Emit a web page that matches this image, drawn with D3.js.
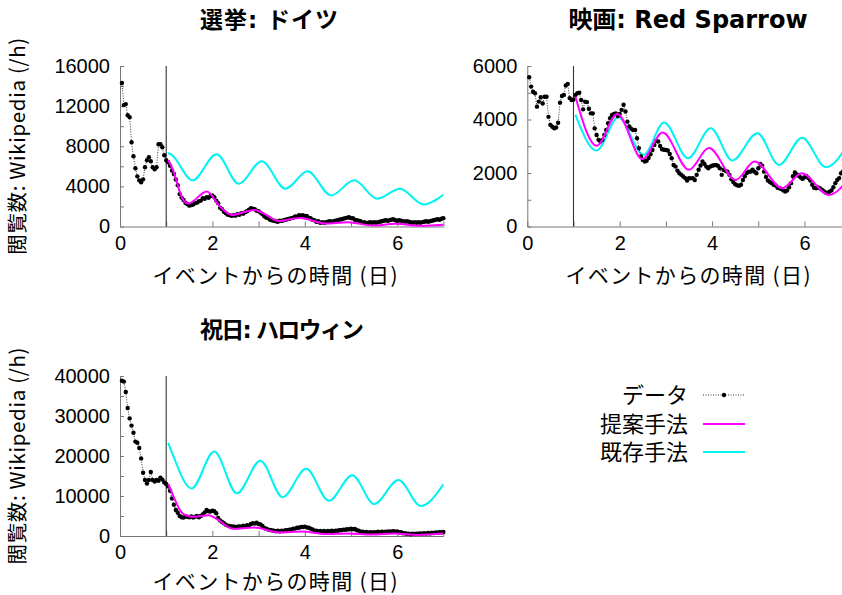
<!DOCTYPE html>
<html>
<head>
<meta charset="utf-8">
<script src="https://cdn.jsdelivr.net/npm/d3@7"></script>
<style>
  body { margin: 0; background: #fff; }
  text { font-family: "Liberation Sans", Arial, "Noto Sans CJK JP", sans-serif; fill: #000; }
  .jp { font-family: "Noto Sans CJK JP", "Liberation Sans", sans-serif; }
  .title { font-family: "DejaVu Sans", "Noto Sans CJK JP", sans-serif; font-weight: bold; }
</style>
</head>
<body>
<svg id="chart" width="842" height="595"></svg>
<script>
// Hourly Wikipedia page views, hour 1 .. 168 after the event
const hoursAfterEvent = d3.range(1, 169);

const electionViews = [
  14300,12100,12200,11100,10900,8400,7000,5800,5000,4600,4400,4700,5900,6600,6900,6500,5900,5700,5900,8200,8200,7900,7100,6600,
  6400,6050,5580,5230,4680,4120,3230,2880,2640,2370,2230,2080,2140,2190,2330,2380,2520,2580,2830,2760,2930,2870,3040,3100,
  2920,2580,2330,1880,1730,1470,1320,1180,1130,1060,1120,1080,1230,1170,1320,1280,1430,1520,1680,1830,1770,1720,1580,1530,
  1380,1230,1020,880,820,680,630,570,520,480,590,560,630,680,730,770,830,880,1010,970,1120,1080,1130,1020,
  1040,880,820,680,630,480,530,380,430,370,420,480,530,470,540,580,630,680,730,770,830,880,920,830,
  820,680,630,570,520,380,430,320,380,430,370,420,380,430,470,530,580,620,570,630,680,720,630,580,
  620,580,530,480,520,470,420,380,430,370,420,380,440,480,520,470,530,580,620,680,720,680,770,830
];

const movieViews = [
  5580,5230,5040,4980,4480,4670,4830,4600,4850,4850,4100,3800,3730,3670,3700,3880,4630,4880,4920,5270,5330,4800,4730,4750,
  4920,4980,5000,4730,4380,4670,4650,4400,4230,4230,3670,3420,3240,3180,3240,3420,3610,3860,4050,4170,4210,4230,4130,4210,
  4360,4550,4300,3920,3740,3650,3610,3610,3300,2930,2620,2490,2430,2460,2560,2700,2860,3050,3200,3180,3010,2890,2870,2860,
  2840,2710,2550,2300,2240,2090,1990,1930,1870,1810,1720,1810,1800,1810,1740,1930,2120,2280,2430,2340,2240,2180,2240,2270,
  2290,2300,2270,2180,1930,2120,2080,2050,1930,1770,1660,1580,1540,1520,1560,1740,1880,2000,2050,2050,2120,2050,1990,2180,
  2340,2270,2050,1850,1720,1660,1620,1560,1530,1450,1430,1400,1350,1310,1350,1470,1620,1880,2020,1950,1900,1830,1780,1840,
  1890,1810,1720,1560,1450,1430,1460,1430,1380,1320,1270,1250,1300,1350,1470,1620,1740,1810,1990,2050,2100,2150,2200,2250
];

const halloweenViews = [
  38800,38600,36000,32000,29400,27600,25800,23600,23300,22000,19400,15800,14000,13100,14000,16000,14000,13600,14000,13800,14600,14100,13400,13000,
  12400,11300,9400,7800,6500,5800,5000,4700,4600,4900,4800,4700,4900,4600,4800,5000,4700,5000,5400,5900,6500,6200,6100,6300,
  6200,5700,4500,3900,3500,3200,2800,2600,2500,2300,2400,2200,2300,2400,2300,2600,2400,2700,2600,3000,3200,3100,3300,3000,
  2900,2500,2000,1800,1600,1500,1400,1300,1200,1300,1150,1300,1250,1450,1450,1600,1650,1850,1850,2050,2050,2250,2250,2350,
  2150,2050,1850,1650,1350,1350,1150,1250,1100,1250,1100,1250,1150,1300,1200,1350,1300,1450,1450,1600,1550,1700,1650,1800,
  1700,1750,1450,1350,1100,1100,950,1000,850,950,900,950,900,1050,950,1050,1000,1100,1050,1150,1100,1200,1100,1150,
  950,950,700,700,550,600,450,550,500,600,550,650,600,700,600,750,650,800,750,900,850,950,900,1000
];

// Model fits, knots in days after the event
const electionProposedDays  = [1.042,1.15,1.22,1.30,1.37,1.48,1.88,2.16,2.42,2.90,3.17,3.43,3.90,4.45,4.93,5.48,5.97,6.48,7.0];
const electionProposedViews = [6600,5600,4600,3400,2650,2300,3500,2000,1150,1650,1150,550,850,300,420,100,270,70,170];
const electionExistingDays  = [1.042,1.12,1.57,2.09,2.57,3.07,3.58,4.06,4.57,5.07,5.57,6.06,6.57,7.0];
const electionExistingViews = [7330,7150,4600,7200,4270,6500,3770,5500,3100,4600,2770,3770,2200,3170];

const movieProposedDays  = [1.042,1.50,1.95,2.49,2.93,3.50,3.93,4.51,4.92,5.52,5.94,6.53,7.0];
const movieProposedViews = [4850,3020,4210,2520,3510,2120,2930,1740,2430,1430,1990,1180,1900];
const movieExistingDays  = [1.042,1.50,1.97,2.52,2.96,3.48,3.97,4.44,4.98,5.45,5.95,6.46,7.0];
const movieExistingViews = [4170,2840,4080,2680,3890,2550,3670,2470,3490,2300,3320,2220,3250];

const halloweenProposedDays  = [1.042,1.10,1.20,1.30,1.42,1.62,1.92,2.10,2.45,2.90,3.45,3.95,4.45,4.95,5.45,5.95,6.45,7.0];
const halloweenProposedViews = [13000,11500,8800,6400,5200,4800,5200,4200,1800,2100,900,1100,500,650,350,600,250,600];
const halloweenExistingDays  = [1.042,1.12,1.55,2.04,2.53,3.04,3.52,4.03,4.52,5.03,5.50,6.03,6.51,7.0];
const halloweenExistingViews = [23300,21000,11900,21100,10700,18800,9700,16800,8800,15200,8000,14000,7500,12900];

const dayTicks = [0,1,2,3,4,5,6,7];
const legendLabels = ["データ", "提案手法", "既存手法"];
const xTitle = "イベントからの時間 (日)";
const yTitle = "閲覧数: Wikipedia (/h)";

const colors = { data: "#000", proposed: "#ff00ff", existing: "#00f2f2", axis: "#777" };

const svg = d3.select("#chart");

const panels = [
  { title: "選挙: ドイツ", titleX: 269, titleW: 138, titleSize: 23, views: electionViews,
    pDays: electionProposedDays, pViews: electionProposedViews, eDays: electionExistingDays, eViews: electionExistingViews,
    left: 120, top: 66, bottom: 226.5, yMax: 16000, yStep: 2000, labelStep: 4000,
    yLabel: true, xTitleX: 275, xTitleGap: 56.5 },
  { title: "映画: Red Sparrow", titleX: 688, titleW: null, titleSize: 24, views: movieViews,
    pDays: movieProposedDays, pViews: movieProposedViews, eDays: movieExistingDays, eViews: movieExistingViews,
    left: 527.3, top: 66, bottom: 226.5, yMax: 6000, yStep: 1000, labelStep: 2000,
    yLabel: false, xTitleX: 688, xTitleGap: 56.5 },
  { title: "祝日: ハロウィン", titleX: 282, titleW: 164, titleSize: 23, views: halloweenViews,
    pDays: halloweenProposedDays, pViews: halloweenProposedViews, eDays: halloweenExistingDays, eViews: halloweenExistingViews,
    left: 120, top: 376, bottom: 536, yMax: 40000, yStep: 5000, labelStep: 10000,
    yLabel: true, xTitleX: 275, xTitleGap: 53 }
];

const dayWidth = 46.2;

panels.forEach(p => {
  const x = d3.scaleLinear().domain([0, 7]).range([p.left, p.left + 7 * dayWidth]);
  const y = d3.scaleLinear().domain([0, p.yMax]).range([p.bottom, p.top]);
  const g = svg.append("g");

  // y axis with inward ticks
  const yAxis = d3.axisLeft(y)
    .tickValues(d3.range(0, p.yMax + 1, p.yStep))
    .tickSizeInner(-4).tickSizeOuter(0).tickPadding(10)
    .tickFormat(d => d % p.labelStep === 0 ? d : "");
  const ya = g.append("g").attr("transform", `translate(${p.left},0)`).call(yAxis);
  ya.selectAll("path, line").attr("stroke", colors.axis);
  ya.selectAll("text").attr("font-size", 20).attr("fill", "#000")
    .attr("font-family", "Liberation Sans, Arial, sans-serif");

  // x axis with inward ticks
  const xAxis = d3.axisBottom(x)
    .tickValues(dayTicks)
    .tickSizeInner(-5).tickSizeOuter(0).tickPadding(9)
    .tickFormat(d => d % 2 === 0 ? d : "");
  const xa = g.append("g").attr("transform", `translate(0,${p.bottom})`).call(xAxis);
  xa.selectAll("path, line").attr("stroke", colors.axis);
  xa.selectAll("text").attr("font-size", 20).attr("fill", "#000")
    .attr("font-family", "Liberation Sans, Arial, sans-serif");

  // event marker at day 1
  g.append("line")
    .attr("x1", x(1)).attr("x2", x(1)).attr("y1", p.top).attr("y2", p.bottom)
    .attr("stroke", "#333").attr("stroke-width", 1.1);

  // existing model
  const modelLine = d3.line().x(d => x(d[0])).y(d => y(d[1])).curve(d3.curveMonotoneX);
  g.append("path")
    .attr("d", modelLine(p.eDays.map((d, i) => [d, p.eViews[i]])))
    .attr("fill", "none").attr("stroke", colors.existing).attr("stroke-width", 2);

  // observed data: dotted line with dots
  const pts = hoursAfterEvent.map((h, i) => [h / 24, p.views[i]]);
  g.append("path")
    .attr("d", d3.line().x(d => x(d[0])).y(d => y(d[1]))(pts))
    .attr("fill", "none").attr("stroke", "#000").attr("stroke-width", 0.8)
    .attr("stroke-dasharray", "1,1.5");
  g.selectAll("circle.obs").data(pts).join("circle")
    .attr("class", "obs")
    .attr("cx", d => x(d[0])).attr("cy", d => y(d[1])).attr("r", 2.2).attr("fill", "#000");

  // proposed model
  g.append("path")
    .attr("d", modelLine(p.pDays.map((d, i) => [d, p.pViews[i]])))
    .attr("fill", "none").attr("stroke", colors.proposed).attr("stroke-width", 2);

  // titles
  const t = g.append("text").attr("class", "title").attr("x", p.titleX).attr("y", p.top - 38)
    .attr("text-anchor", "middle").attr("font-size", p.titleSize)
    .text(p.title);
  if (p.titleW) t.attr("textLength", p.titleW).attr("lengthAdjust", "spacing");

  g.append("text").attr("class", "jp").attr("x", p.xTitleX).attr("y", p.bottom + p.xTitleGap)
    .attr("text-anchor", "middle").attr("font-size", 21)
    .attr("textLength", 245).attr("lengthAdjust", "spacing")
    .text(xTitle);
  if (p.yLabel) {
    g.append("text").attr("class", "jp")
      .attr("transform", `translate(25,${(p.top + p.bottom) / 2}) rotate(-90)`)
      .attr("text-anchor", "middle").attr("font-size", 20.5)
      .attr("textLength", 217).attr("lengthAdjust", "spacing")
      .text(yTitle);
  }
});

// legend
const legend = svg.append("g");
const legendY = [395, 424, 452];
legendLabels.forEach((label, i) => {
  legend.append("text").attr("class", "jp")
    .attr("x", 688).attr("y", legendY[i]).attr("dy", "0.35em")
    .attr("text-anchor", "end").attr("font-size", 22).text(label);
});
legend.append("line").attr("x1", 703).attr("x2", 745).attr("y1", legendY[0]).attr("y2", legendY[0])
  .attr("stroke", "#000").attr("stroke-width", 0.8).attr("stroke-dasharray", "1,1.5");
legend.append("circle").attr("cx", 724).attr("cy", legendY[0]).attr("r", 2.2).attr("fill", "#000");
legend.append("line").attr("x1", 703).attr("x2", 745).attr("y1", legendY[1]).attr("y2", legendY[1])
  .attr("stroke", colors.proposed).attr("stroke-width", 2);
legend.append("line").attr("x1", 703).attr("x2", 745).attr("y1", legendY[2]).attr("y2", legendY[2])
  .attr("stroke", colors.existing).attr("stroke-width", 2);
</script>
</body>
</html>
